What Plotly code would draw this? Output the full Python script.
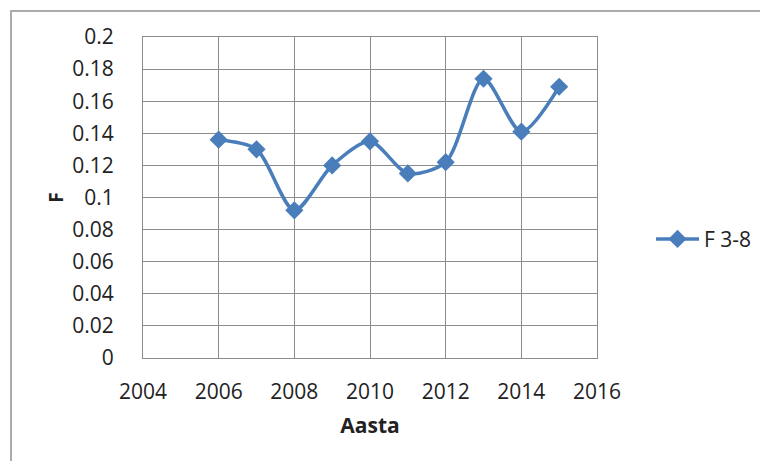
import plotly.graph_objects as go

years = [2006, 2007, 2008, 2009, 2010, 2011, 2012, 2013, 2014, 2015]
f_values = [0.136, 0.130, 0.092, 0.120, 0.135, 0.115, 0.122, 0.174, 0.141, 0.169]
series_name = "F 3-8"
x_ticks = [2004, 2006, 2008, 2010, 2012, 2014, 2016]
y_ticks = [0, 0.02, 0.04, 0.06, 0.08, 0.1, 0.12, 0.14, 0.16, 0.18, 0.2]
y_tick_labels = ["0", "0.02", "0.04", "0.06", "0.08", "0.1", "0.12", "0.14", "0.16", "0.18", "0.2"]

BLUE = "#4A7EBB"
GRID = "#8C8C8C"
FONT = "Open Sans, Liberation Sans, sans-serif"

fig = go.Figure()
fig.add_trace(go.Scatter(
    x=years, y=f_values, name=series_name, mode="lines+markers",
    line=dict(color=BLUE, width=3.5, shape="spline", smoothing=0.8),
    marker=dict(symbol="diamond", size=14, color=BLUE),
))

fig.update_layout(
    width=760, height=461,
    margin=dict(l=143, r=163, t=37, b=103),
    paper_bgcolor="white", plot_bgcolor="white",
    font=dict(family=FONT, size=21, color="#222"),
    showlegend=True,
    legend=dict(xref="container", yref="container", x=0.8566, y=0.481,
                xanchor="left", yanchor="middle", font=dict(size=21),
                itemwidth=43, bgcolor="rgba(0,0,0,0)"),
    xaxis=dict(range=[2004, 2016], tickvals=x_ticks, showgrid=True,
               gridcolor=GRID, gridwidth=1, showline=True, linecolor=GRID,
               mirror=True, zeroline=False, ticks="", ticklabelstandoff=15,
               title=dict(text="<b>Aasta</b>", font=dict(size=21), standoff=14)),
    yaxis=dict(range=[0, 0.2], tickvals=y_ticks, ticktext=y_tick_labels,
               showgrid=True, gridcolor=GRID, gridwidth=1, showline=True,
               linecolor=GRID, mirror=True, zeroline=False, ticks="",
               ticklabelstandoff=24,
               title=dict(text="<b>F</b>", font=dict(size=19), standoff=3)),
    shapes=[dict(type="rect", xref="paper", yref="paper",
                 x0=-(143-11)/454, x1=(760-143+5)/454,
                 y0=-(461-358+10)/321, y1=1+(37-11)/321,
                 line=dict(color="#ABABAB", width=2), fillcolor="rgba(0,0,0,0)",
                 layer="below")],
)

fig.write_html("out.html")
